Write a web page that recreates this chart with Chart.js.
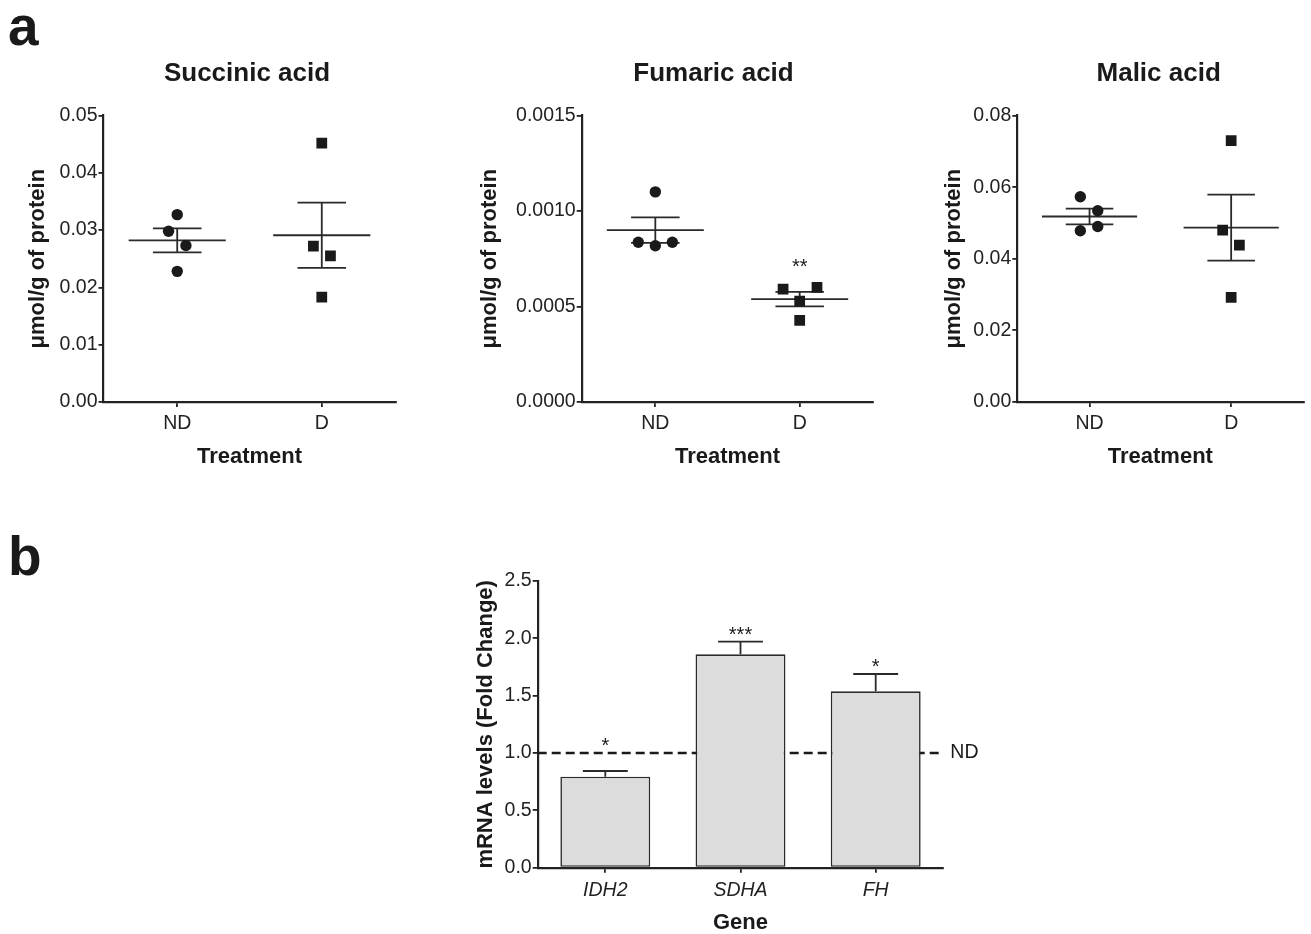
<!DOCTYPE html>
<html><head><meta charset="utf-8">
<script src="https://cdn.jsdelivr.net/npm/chart.js@4.4.1/dist/chart.umd.min.js"></script>
<style>
html,body{margin:0;padding:0;background:#fff;overflow:hidden;width:1311px;height:934px;}
canvas{position:absolute;}
.panel{position:absolute;font-family:'Liberation Sans',Arial,sans-serif;font-weight:bold;font-size:55px;line-height:55px;color:#1a1a1a;}
</style></head><body>
<div class="panel" style="left:8px;top:-1px">a</div>
<div class="panel" style="left:8px;top:529px">b</div>
<canvas id="c1" width="420" height="440" style="left:0;top:40px"></canvas>
<canvas id="c2" width="450" height="440" style="left:440px;top:40px"></canvas>
<canvas id="c3" width="401" height="440" style="left:910px;top:40px"></canvas>
<canvas id="c4" width="600" height="374" style="left:440px;top:560px"></canvas>
<script>
// ---------- DATA ----------
const groups = ['ND', 'D'];

const succinicND = [0.0327, 0.0298, 0.0273, 0.0228];
const succinicD = [0.0452, 0.0272, 0.0255, 0.0183];
const succinicMean = [0.0282, 0.0291];
const succinicSEM = [0.0021, 0.0057];
const succinicTicks = [0, 0.01, 0.02, 0.03, 0.04, 0.05];
const succinicSig = ['', ''];

const fumaricND = [0.00110, 0.000836, 0.000818, 0.000836];
const fumaricD = [0.000591, 0.000600, 0.000528, 0.000428];
const fumaricMean = [0.000900, 0.000539];
const fumaricSEM = [0.000067, 0.000038];
const fumaricTicks = [0, 0.0005, 0.0010, 0.0015];
const fumaricSig = ['', '**'];

const malicND = [0.0573, 0.0534, 0.0490, 0.0478];
const malicD = [0.0730, 0.0480, 0.0438, 0.0292];
const malicMean = [0.0518, 0.0487];
const malicSEM = [0.0022, 0.0092];
const malicTicks = [0, 0.02, 0.04, 0.06, 0.08];
const malicSig = ['', ''];

const genes = ['IDH2', 'SDHA', 'FH'];
const geneFold = [0.794, 1.861, 1.538];
const geneSEM = [0.049, 0.110, 0.151];
const geneSig = ['*', '***', '*'];
const geneTicks = [0, 0.5, 1.0, 1.5, 2.0, 2.5];
const geneRef = 1.0;
const geneRefLabel = 'ND';

// ---------- LAYOUT / STYLE ----------
const FONT = '"Liberation Sans", Arial, sans-serif';
const INK = '#1a1a1a';
const AXIS = '#222';
const MEAN_HALF = 0.336, CAP_HALF = 0.168;
const JIT = {
  succinic: {ND: [0, -0.06, 0.06, 0], D: [0, -0.058, 0.06, 0]},
  fumaric: {ND: [0, -0.118, 0, 0.118], D: [-0.115, 0.12, 0, 0]},
  malic: {ND: [-0.065, 0.058, 0.058, -0.065], D: [0, -0.06, 0.058, 0]}
};

Chart.defaults.font.family = FONT;
Chart.defaults.color = INK;

const headline = {
  id: 'headline',
  afterDraw(chart, args, opts) {
    if (!opts.text) return;
    const {ctx, chartArea} = chart;
    ctx.save();
    ctx.font = 'bold 26px ' + FONT;
    ctx.fillStyle = INK;
    ctx.textAlign = 'center';
    ctx.textBaseline = 'middle';
    ctx.fillText(opts.text, (chartArea.left + chartArea.right) / 2 + (opts.dx || 0), opts.y);
    ctx.restore();
  }
};

const sigScatter = {
  id: 'sigScatter',
  afterDatasetsDraw(chart, args, opts) {
    if (!opts.labels) return;
    const {ctx, scales: {x, y}} = chart;
    ctx.save();
    ctx.font = '20px ' + FONT;
    ctx.fillStyle = INK;
    ctx.textAlign = 'center';
    ctx.textBaseline = 'alphabetic';
    opts.labels.forEach((t, i) => {
      if (!t) return;
      const top = Math.max(...opts.values[i]);
      ctx.fillText(t, x.getPixelForValue(i + 1), y.getPixelForValue(top) - 14);
    });
    ctx.restore();
  }
};

function pts(vals, jit, c) { return vals.map((v, i) => ({x: c + jit[i], y: v})); }
function semSegs(m, s, c) {
  return [
    {x: c - MEAN_HALF, y: m}, {x: c + MEAN_HALF, y: m}, {x: c, y: null},
    {x: c - CAP_HALF, y: m + s}, {x: c + CAP_HALF, y: m + s}, {x: c, y: null},
    {x: c - CAP_HALF, y: m - s}, {x: c + CAP_HALF, y: m - s}, {x: c, y: null},
    {x: c, y: m - s}, {x: c, y: m + s}
  ];
}

function makeScatter(id, o) {
  const lineDs = (data) => ({type: 'scatter', data, showLine: true, spanGaps: false, borderColor: '#2a2a2a',
    borderWidth: 1.8, pointRadius: 0, tension: 0, order: 2});
  return new Chart(document.getElementById(id), {
    type: 'scatter',
    data: {
      datasets: [
        {data: pts(o.nd, o.jit.ND, 1), pointStyle: 'circle', pointRadius: 5.7, pointBorderWidth: 0,
          backgroundColor: INK, order: 0},
        {data: pts(o.d, o.jit.D, 2), pointStyle: 'rect', pointRadius: 7.6, pointBorderWidth: 0,
          backgroundColor: INK, order: 0},
        lineDs(semSegs(o.mean[0], o.sem[0], 1)),
        lineDs(semSegs(o.mean[1], o.sem[1], 2))
      ]
    },
    options: {
      responsive: false, animation: false, events: [], devicePixelRatio: 1,
      layout: {padding: {top: 75.5, left: 0, right: o.padRight, bottom: 0}},
      plugins: {
        legend: {display: false}, tooltip: {enabled: false},
        headline: {text: o.title, dx: o.titleDx, y: 34},
        sigScatter: {labels: o.sig, values: [o.nd, o.d]}
      },
      scales: {
        x: {
          type: 'linear', min: 0.49, max: 2.51,
          afterBuildTicks: s => { s.ticks = groups.map((g, i) => ({value: i + 1})); },
          afterFit: s => { s.height = 78; },
          ticks: {callback: v => groups[v - 1], font: {size: 19.5}, color: AXIS, padding: 5},
          grid: {drawOnChartArea: false, drawTicks: true, tickLength: 5, color: AXIS, lineWidth: 1.8},
          border: {display: true, color: AXIS, width: 2.2},
          title: {display: true, text: 'Treatment', font: {size: 22, weight: 'bold'}, color: INK,
            padding: {top: 0, bottom: 10}}
        },
        y: {
          min: 0, max: o.ticks[o.ticks.length - 1],
          afterBuildTicks: s => { s.ticks = o.ticks.map(v => ({value: v})); },
          afterFit: s => { s.width = o.axisW; },
          ticks: {callback: v => v.toFixed(o.dec), font: {size: 19.5}, color: AXIS, padding: 1},
          grid: {drawOnChartArea: false, drawTicks: true, tickLength: 5, color: AXIS, lineWidth: 1.8},
          border: {display: true, color: AXIS, width: 2.2},
          title: {display: true, text: 'μmol/g of protein', font: {size: 22, weight: 'bold'}, color: INK,
            padding: {top: o.yTitlePad, bottom: 0}}
        }
      }
    },
    plugins: [headline, sigScatter]
  });
}

makeScatter('c1', {title: 'Succinic acid', titleDx: -2.5, nd: succinicND, d: succinicD,
  mean: succinicMean, sem: succinicSEM, ticks: succinicTicks, dec: 2, jit: JIT.succinic, sig: succinicSig,
  axisW: 103.5, yTitlePad: 24.8, padRight: 24.5});
makeScatter('c2', {title: 'Fumaric acid', titleDx: -14, nd: fumaricND, d: fumaricD,
  mean: fumaricMean, sem: fumaricSEM, ticks: fumaricTicks, dec: 4, jit: JIT.fumaric, sig: fumaricSig,
  axisW: 141.7, yTitlePad: 36.8, padRight: 16.7});
makeScatter('c3', {title: 'Malic acid', titleDx: -1.7, nd: malicND, d: malicD,
  mean: malicMean, sem: malicSEM, ticks: malicTicks, dec: 2, jit: JIT.malic, sig: malicSig,
  axisW: 107.3, yTitlePad: 30.8, padRight: 2});

// ---------- Panel b ----------
const refLine = {
  id: 'refLine',
  beforeDatasetsDraw(chart, args, opts) {
    const {ctx, chartArea, scales: {y}} = chart;
    const py = y.getPixelForValue(opts.value);
    ctx.save();
    ctx.strokeStyle = INK; ctx.lineWidth = 2.5; ctx.setLineDash([9, 5]);
    ctx.beginPath(); ctx.moveTo(chartArea.left, py); ctx.lineTo(chartArea.right, py); ctx.stroke();
    ctx.setLineDash([]);
    ctx.font = '19.5px ' + FONT; ctx.fillStyle = INK; ctx.textAlign = 'left'; ctx.textBaseline = 'middle';
    ctx.fillText(opts.label, chartArea.right + 7, py);
    ctx.restore();
  }
};
const barErr = {
  id: 'barErr',
  afterDatasetsDraw(chart, args, opts) {
    const {ctx, scales: {x, y}} = chart;
    const meta = chart.getDatasetMeta(0);
    const step = x.getPixelForValue(1) - x.getPixelForValue(0);
    const cap = step * 0.166;
    ctx.save();
    ctx.strokeStyle = '#2a2a2a'; ctx.lineWidth = 1.8;
    meta.data.forEach((bar, i) => {
      const v = opts.values[i], s = opts.sem[i];
      const top = y.getPixelForValue(v + s), base = y.getPixelForValue(v);
      ctx.beginPath();
      ctx.moveTo(bar.x, base); ctx.lineTo(bar.x, top);
      ctx.moveTo(bar.x - cap, top); ctx.lineTo(bar.x + cap, top);
      ctx.stroke();
    });
    ctx.font = '20px ' + FONT; ctx.fillStyle = INK; ctx.textAlign = 'center'; ctx.textBaseline = 'alphabetic';
    meta.data.forEach((bar, i) => {
      const t = opts.sig[i];
      if (!t) return;
      const hi = Math.max(opts.values[i] + opts.sem[i], opts.ref);
      ctx.fillText(t, bar.x, y.getPixelForValue(hi) - 1);
    });
    ctx.restore();
  }
};

new Chart(document.getElementById('c4'), {
  type: 'bar',
  data: {
    labels: genes,
    datasets: [{data: geneFold, backgroundColor: '#dcdcdc', borderColor: '#2a2a2a', borderWidth: 1.6,
      borderSkipped: false, categoryPercentage: 1, barPercentage: 0.665}]
  },
  options: {
    responsive: false, animation: false, events: [], devicePixelRatio: 1,
    layout: {padding: {top: 21, left: 0, right: 96.7, bottom: 0}},
    plugins: {
      legend: {display: false}, tooltip: {enabled: false},
      refLine: {value: geneRef, label: geneRefLabel},
      barErr: {values: geneFold, sem: geneSEM, sig: geneSig, ref: geneRef}
    },
    scales: {
      x: {
        type: 'category', offset: true,
        afterFit: s => { s.height = 66.3; },
        ticks: {font: {size: 19.5, style: 'italic'}, color: AXIS, padding: 6},
        grid: {offset: false, drawOnChartArea: false, drawTicks: true, tickLength: 5, color: AXIS, lineWidth: 1.8},
        border: {display: true, color: AXIS, width: 2.2},
        title: {display: true, text: 'Gene', font: {size: 22, weight: 'bold', lineHeight: 1}, color: INK,
          padding: {top: 0, bottom: 0}}
      },
      y: {
        min: 0, max: geneTicks[geneTicks.length - 1],
        afterBuildTicks: s => { s.ticks = geneTicks.map(v => ({value: v})); },
        afterFit: s => { s.width = 97.7; },
        ticks: {callback: v => v.toFixed(1), font: {size: 19.5}, color: AXIS, padding: 1},
        grid: {drawOnChartArea: false, drawTicks: true, tickLength: 5, color: AXIS, lineWidth: 1.8},
        border: {display: true, color: AXIS, width: 2.2},
        title: {display: true, text: 'mRNA levels (Fold Change)', font: {size: 22, weight: 'bold'}, color: INK,
          padding: {top: 32.8, bottom: 0}}
      }
    }
  },
  plugins: [refLine, barErr]
});
</script>
</body></html>
